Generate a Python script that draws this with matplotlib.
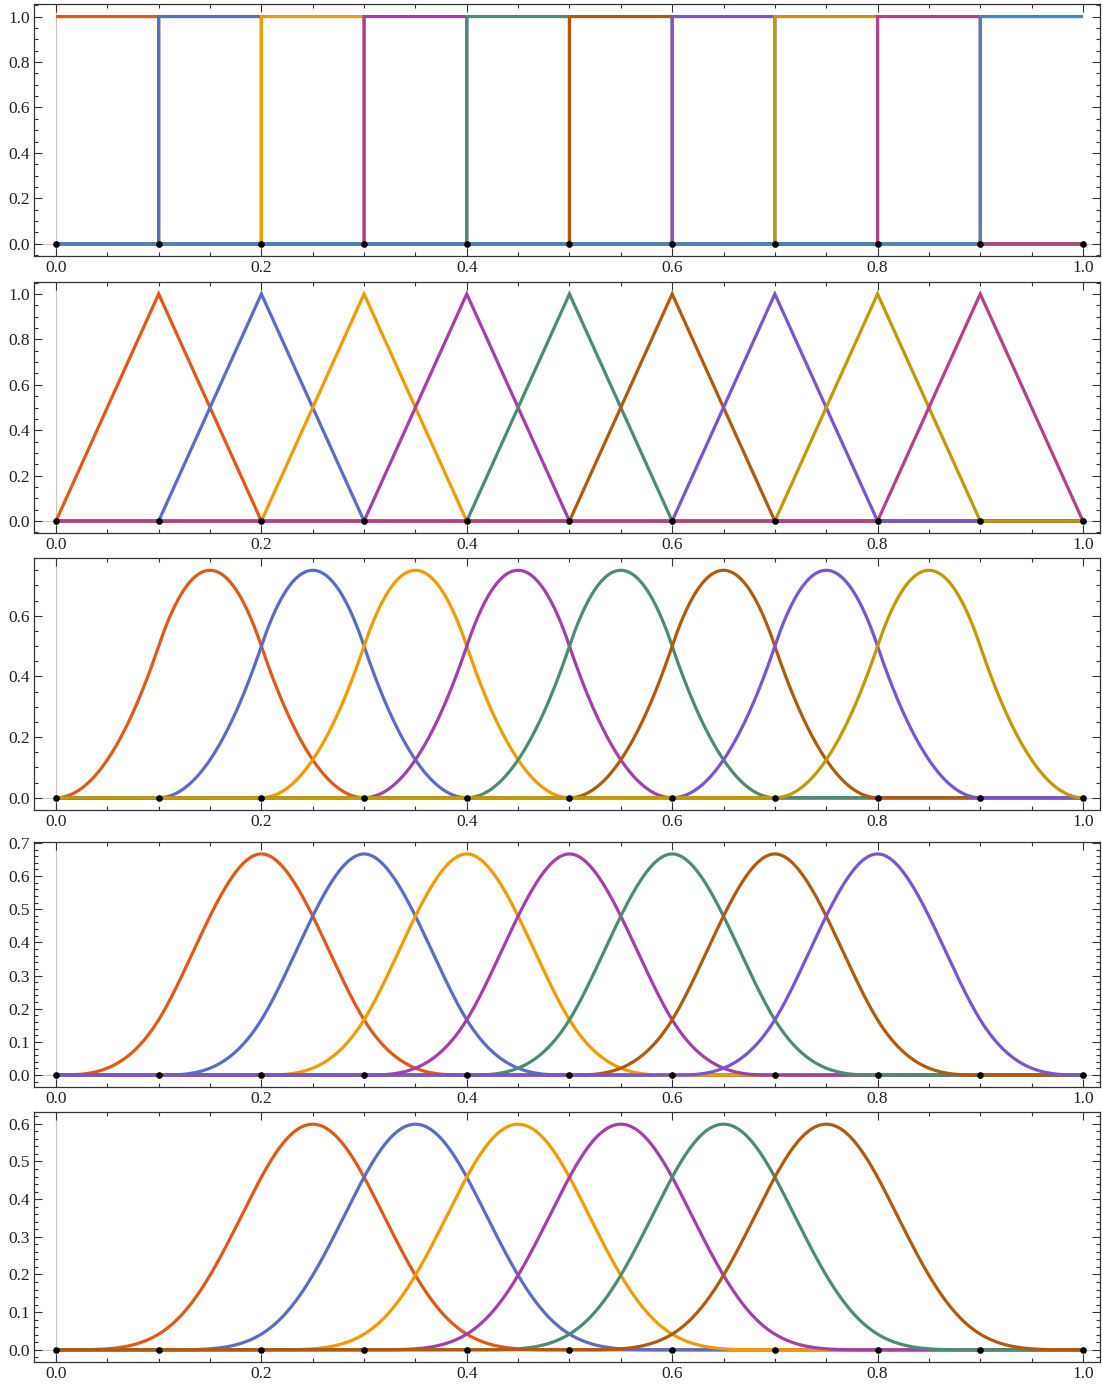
import numpy as np
import matplotlib
matplotlib.use("Agg")
import matplotlib.pyplot as plt
from matplotlib.ticker import MultipleLocator, FormatStrFormatter

# ---- data ----
knots = [0.0, 0.1, 0.2, 0.3, 0.4, 0.5, 0.6, 0.7, 0.8, 0.9, 1.0]
degrees = [0, 1, 2, 3, 4]
colors = ["#E0581A", "#5B6CC8", "#F09C00", "#A040A8", "#4C8C72",
          "#B05A10", "#7B55D0", "#BF9A00", "#B4408A", "#4C82B4"]
y_major = [0.2, 0.2, 0.2, 0.1, 0.1]
y_minor = [0.05, 0.05, 0.05, 0.02, 0.02]
y_peak = [1.0, 1.0, 0.75, 2 / 3, 0.599]

# panel frames in pixels: (top, bottom)
frames_px = [(4.3, 256.0), (281.7, 533.3), (558.0, 810.0), (842.0, 1087.0), (1112.0, 1362.0)]
W, H = 1102, 1385
left_px, right_px = 34.0, 1100.0


def basis(i, p, x, t):
    """Cox-de Boor recursion."""
    if p == 0:
        last = (i + 1 == len(t) - 1)
        if last:
            return ((x >= t[i]) & (x <= t[i + 1])).astype(float)
        return ((x >= t[i]) & (x < t[i + 1])).astype(float)
    out = np.zeros_like(x)
    d1 = t[i + p] - t[i]
    d2 = t[i + p + 1] - t[i + 1]
    if d1 > 0:
        out += (x - t[i]) / d1 * basis(i, p - 1, x, t)
    if d2 > 0:
        out += (t[i + p + 1] - x) / d2 * basis(i + 1, p - 1, x, t)
    return out


plt.rcParams["font.family"] = ["Liberation Serif", "DejaVu Serif"]

t = np.array(knots)
xs = np.linspace(0, 1, 2001)
xs = np.unique(np.concatenate([xs, t[1:-1] - 1e-9]))

fig = plt.figure(figsize=(W / 100, H / 100), dpi=100)

for k, p in enumerate(degrees):
    top, bot = frames_px[k]
    ax = fig.add_axes([left_px / W, 1 - bot / H, (right_px - left_px) / W, (bot - top) / H])
    n = len(knots) - 1 - p
    for i in range(n):
        ys = basis(i, p, xs, t)
        ax.plot(xs, ys, color=colors[i], lw=2.3, solid_joinstyle="miter",
                solid_capstyle="butt", zorder=2 + i * 0.01)
    ax.plot(knots, np.zeros(len(knots)), "o", color="black", ms=3.8, zorder=5)
    ax.axhline(0, color="#c4c4c4", lw=0.8, zorder=1)
    ax.axvline(0, color="#c4c4c4", lw=0.8, zorder=1)
    pad = 0.054 * y_peak[k]
    ax.set_ylim(-pad, y_peak[k] + pad)
    ax.set_xlim(-0.0214, 1.0166)
    ax.xaxis.set_major_locator(MultipleLocator(0.2))
    ax.xaxis.set_minor_locator(MultipleLocator(0.05))
    ax.yaxis.set_major_locator(MultipleLocator(y_major[k]))
    ax.yaxis.set_minor_locator(MultipleLocator(y_minor[k]))
    ax.xaxis.set_major_formatter(FormatStrFormatter("%.1f"))
    ax.yaxis.set_major_formatter(FormatStrFormatter("%.1f"))
    ax.tick_params(which="both", direction="in", top=True, right=True,
                   labeltop=False, labelright=False, colors="#333333",
                   labelcolor="#222222", labelsize=12.5, width=0.8)
    ax.tick_params(which="major", length=5.5, pad=3)
    ax.tick_params(which="minor", length=3)
    for s in ax.spines.values():
        s.set_color("#333333")
        s.set_linewidth(0.9)

fig.savefig("out.png", dpi=100)
